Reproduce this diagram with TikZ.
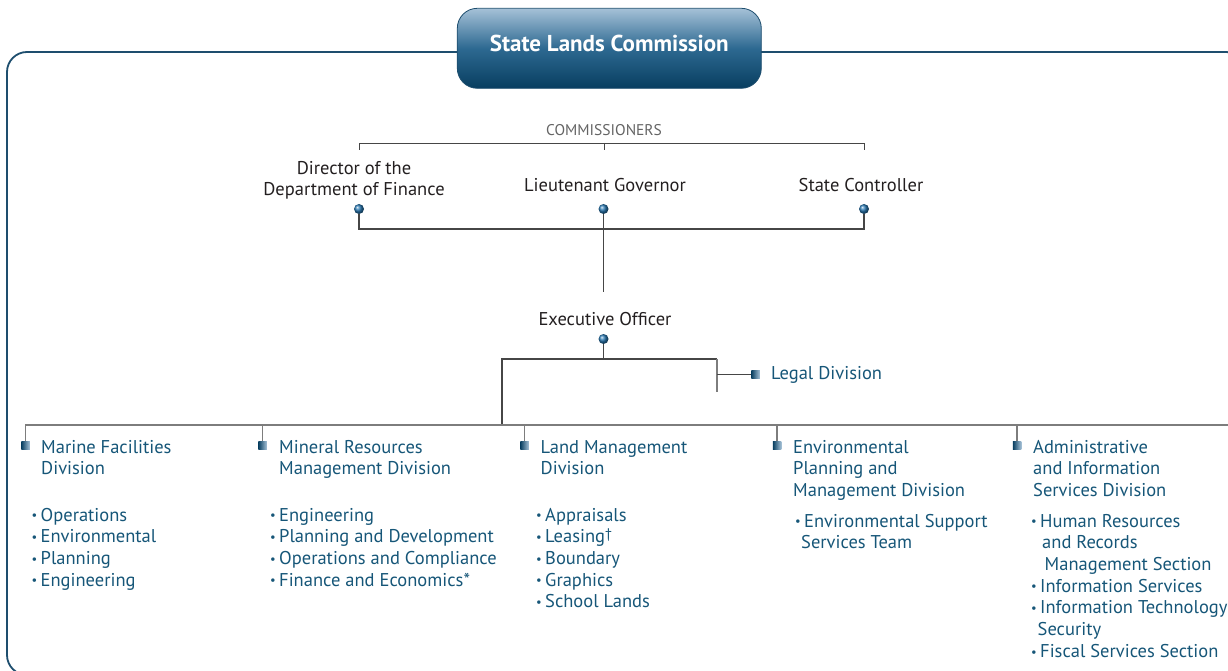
\documentclass[tikz,border=0pt]{standalone}
\usepackage{fontspec}
\setmainfont{PT Sans}
\definecolor{frameblue}{RGB}{30,78,110}
\definecolor{divblue}{RGB}{22,86,120}
\definecolor{namegray}{RGB}{35,31,32}
\definecolor{capsgray}{RGB}{100,100,100}
\definecolor{linegray}{RGB}{70,70,70}
\definecolor{busgray}{RGB}{125,125,125}
\definecolor{boxtop}{RGB}{165,193,215}
\definecolor{boxmid}{RGB}{45,105,145}
\definecolor{boxbot}{RGB}{8,62,96}
\definecolor{dotblue}{RGB}{40,120,178}
\newcommand\bu{\makebox[9pt][l]{\raisebox{1.2pt}{\fontsize{12.5}{12}\selectfont •}}}
\newcommand\daggermark{\raisebox{4pt}{\fontsize{14}{14}\selectfont †}}
\tikzset{
  txt/.style={inner sep=0pt, font=\fontsize{18.5}{21.7}\selectfont, align=left},
  person/.style={txt, text=namegray, align=center, anchor=base},
  div/.style={txt, text=divblue, anchor=base west},
  conn/.style={draw=linegray, line width=1.1pt},
  bus/.style={draw=busgray, line width=1.1pt},
  dotnode/.style={circle, inner sep=0pt, minimum size=10pt, shading=ball, ball color=dotblue},
  marker/.style={rectangle, inner sep=0pt, minimum size=8.5pt, left color=boxbot, right color=boxtop},
  titlebox/.style={rectangle, rounded corners=20pt, minimum width=304pt, minimum height=80pt,
    top color=boxtop, bottom color=boxbot, middle color=boxmid, draw=frameblue, line width=0.8pt,
    text=white, font=\fontsize{23}{25}\selectfont\bfseries, text height=14pt, text depth=7.2pt},
}
\begin{document}
\begin{tikzpicture}[x=1pt, y=-1pt]
\useasboundingbox (0,0) rectangle (1228,671);
\clip (0,0) rectangle (1228,671);

% outer frame
\draw[frameblue, line width=1.8pt, rounded corners=20pt] (7,52) rectangle (1246,675);

% title
\node[titlebox] (slc) at (609.3,48.3) {State Lands Commission};

% commissioners
\node[inner sep=0pt, anchor=base, text=capsgray, font=\fontsize{15.5}{17}\selectfont] (comm) at (604,136) {COMMISSIONERS};
\coordinate (bl) at (359,143);
\coordinate (bm) at (604,143);
\coordinate (br) at (864,143);
\draw[conn, line width=0.8pt] (bl) ++(0,7) -- (bl) -- (br) -- ++(0,7);
\draw[conn, line width=0.8pt] (bm) -- ++(0,7);

% multi-line nodes are anchored at the baseline of their last line
\node[person] (dof) at (354,196) {Director of the\\Department of Finance};
\node[person] (lg) at (605,192) {Lieutenant Governor};
\node[person] (sc) at (861,192) {State Controller};

\node[dotnode] (d1) at (359,209) {};
\node[dotnode] (d2) at (603.5,209) {};
\node[dotnode] (d3) at (864,209) {};
\draw[conn] (d1.south) -- (359,229) -- (864,229) -- (d3.south);
\coordinate (eotop) at (603.5,292);
\draw[conn] (d2.south) -- (eotop);

% executive officer
\node[person] (eo) at (605,325) {Executive Officer};
\node[dotnode] (ed) at (603.5,339) {};
\coordinate (ej) at (603.5,359);
\coordinate (ejl) at (502,359);
\coordinate (ejr) at (717,359);
\coordinate (legalend) at (717,392);
\coordinate (busjoin) at (502,425);
\draw[conn] (ed.south) -- (ej);
\draw[conn] (busjoin) -- (ejl) -- (ejr);
\draw[bus] (ejr) -- (legalend);

% legal division
\node[marker] (legm) at (755.5,374.7) {};
\draw[conn] (717,374.7) -- (legm.west);
\node[div] (legal) at (771,379) {Legal Division};

% division markers and bus
\node[marker] (m1) at (25.5,445.5) {};
\node[marker] (m2) at (262.5,445.5) {};
\node[marker] (m3) at (524.5,445.5) {};
\node[marker] (m4) at (777,445.5) {};
\node[marker] (m5) at (1017,445.5) {};
\coordinate (busend) at (1228,425);
\draw[bus] (m1.north) -- (m1.north |- busend) -- (busend);
\foreach \m in {m2,m3,m4,m5}
  \draw[bus] (\m.north) -- (\m.north |- busend);

% division titles
\node[div] (mfd) at (41,474.7) {Marine Facilities\\Division};
\node[div] (mrm) at (279,474.7) {Mineral Resources\\Management Division};
\node[div] (lmd) at (540.5,474.7) {Land Management\\Division};
\node[div] (epm) at (793,496.4) {Environmental\\Planning and\\Management Division};
\node[div] (ais) at (1033,496.4) {Administrative\\and Information\\Services Division};

% division units
\node[div] (mfdu) at (31.5,586.1) {\bu Operations\\\bu Environmental\\\bu Planning\\\bu Engineering};
\node[div] (mrmu) at (270,586.1) {\bu Engineering\\\bu Planning and Development\\\bu Operations and Compliance\\\bu Finance and Economics*};
\node[div] (lmdu) at (536,607.8) {\bu Appraisals\\\bu Leasing\daggermark\\\bu Boundary\\\bu Graphics\\\bu School Lands};
\node[div] (epmu) at (795,548.7) {\bu Environmental Support\\\hspace*{6pt}Services Team};
\node[div] (aisu) at (1031,657.2) {\bu Human Resources\\\hspace*{11pt}and Records\\\hspace*{13.5pt}Management Section\\\bu Information Services\\\bu Information Technology\\\hspace*{6.5pt}Security\\\bu Fiscal Services Section};
\end{tikzpicture}
\end{document}
